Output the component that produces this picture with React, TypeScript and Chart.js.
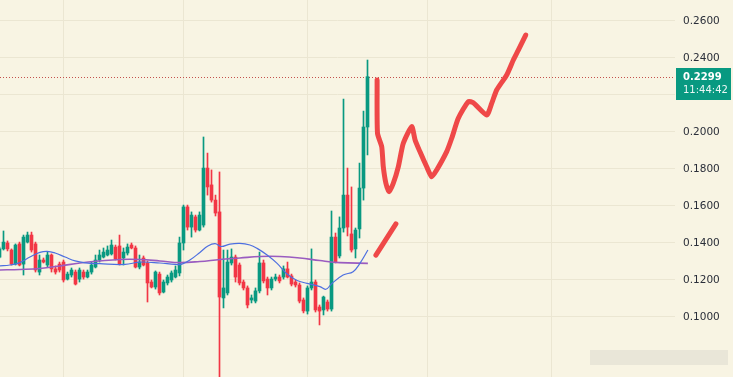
import React, { useEffect, useRef } from "react";
import { Chart, registerables } from "chart.js";

Chart.register(...registerables);

// ---- data ----
const candleOpen = [
  0.1324, 0.1368, 0.1400, 0.1362, 0.1286, 0.1395, 0.1286, 0.1405, 0.1443, 0.1395,
  0.1243, 0.1308, 0.1281, 0.1335, 0.1260, 0.1286, 0.1297, 0.1205, 0.1227, 0.1243,
  0.1205, 0.1243, 0.1216, 0.1243, 0.1270, 0.1308, 0.1324, 0.1335, 0.1341, 0.1378,
  0.1384, 0.1319, 0.1346, 0.1389, 0.1373, 0.1270, 0.1319, 0.1292, 0.1189, 0.1162,
  0.1232, 0.1135, 0.1184, 0.1200, 0.1216, 0.1238, 0.1400, 0.1595, 0.1486, 0.1541,
  0.1470, 0.1497, 0.1805, 0.1714, 0.1632, 0.1568, 0.1103, 0.1130, 0.1292, 0.1324,
  0.1281, 0.1189, 0.1157, 0.1092, 0.1086, 0.1141, 0.1292, 0.1205, 0.1157, 0.1205,
  0.1216, 0.1216, 0.1260, 0.1222, 0.1189, 0.1173, 0.1092, 0.1032, 0.1157, 0.1189,
  0.1054, 0.1038, 0.1081, 0.1043, 0.1432, 0.1330, 0.1481, 0.1659, 0.1449, 0.1368,
  0.1476, 0.1697, 0.2027,
];
const candleHigh = [
  0.1378, 0.1465, 0.1411, 0.1368, 0.1395, 0.1405, 0.1443, 0.1459, 0.1459, 0.1405,
  0.1335, 0.1319, 0.1351, 0.1341, 0.1276, 0.1297, 0.1308, 0.1243, 0.1265, 0.1254,
  0.1265, 0.1254, 0.1254, 0.1297, 0.1335, 0.1362, 0.1373, 0.1384, 0.1416, 0.1389,
  0.1443, 0.1373, 0.1395, 0.1400, 0.1384, 0.1335, 0.1330, 0.1303, 0.1200, 0.1249,
  0.1243, 0.1200, 0.1227, 0.1249, 0.1276, 0.1432, 0.1605, 0.1605, 0.1568, 0.1551,
  0.1568, 0.1973, 0.1886, 0.1795, 0.1659, 0.1784, 0.1362, 0.1362, 0.1368, 0.1335,
  0.1292, 0.1200, 0.1168, 0.1119, 0.1157, 0.1351, 0.1308, 0.1216, 0.1216, 0.1232,
  0.1227, 0.1276, 0.1297, 0.1232, 0.1200, 0.1184, 0.1103, 0.1168, 0.1368, 0.1200,
  0.1065, 0.1113, 0.1092, 0.1573, 0.1454, 0.1541, 0.2178, 0.1805, 0.1703, 0.1481,
  0.1832, 0.2113, 0.2389,
];
const candleLow = [
  0.1319, 0.1362, 0.1357, 0.1281, 0.1281, 0.1276, 0.1227, 0.1400, 0.1351, 0.1243,
  0.1227, 0.1292, 0.1270, 0.1243, 0.1232, 0.1243, 0.1189, 0.1200, 0.1216, 0.1173,
  0.1189, 0.1205, 0.1211, 0.1232, 0.1265, 0.1297, 0.1319, 0.1330, 0.1335, 0.1308,
  0.1281, 0.1281, 0.1335, 0.1368, 0.1265, 0.1260, 0.1276, 0.1081, 0.1157, 0.1151,
  0.1119, 0.1130, 0.1173, 0.1189, 0.1211, 0.1222, 0.1362, 0.1470, 0.1432, 0.1459,
  0.1465, 0.1486, 0.1659, 0.1621, 0.1546, 0.0600, 0.1049, 0.1119, 0.1281, 0.1189,
  0.1173, 0.1146, 0.1049, 0.1076, 0.1076, 0.1130, 0.1184, 0.1119, 0.1146, 0.1195,
  0.1184, 0.1205, 0.1211, 0.1168, 0.1162, 0.1076, 0.1022, 0.1016, 0.1146, 0.1027,
  0.0957, 0.1011, 0.1032, 0.1032, 0.1292, 0.1319, 0.1459, 0.1438, 0.1351, 0.1319,
  0.1427, 0.1632, 0.1876,
];
const candleClose = [
  0.1368, 0.1405, 0.1368, 0.1286, 0.1389, 0.1281, 0.1432, 0.1443, 0.1362, 0.1254,
  0.1308, 0.1297, 0.1335, 0.1260, 0.1243, 0.1254, 0.1200, 0.1232, 0.1254, 0.1178,
  0.1254, 0.1216, 0.1243, 0.1281, 0.1308, 0.1335, 0.1351, 0.1362, 0.1389, 0.1314,
  0.1286, 0.1351, 0.1378, 0.1373, 0.1270, 0.1297, 0.1281, 0.1184, 0.1162, 0.1243,
  0.1130, 0.1189, 0.1216, 0.1238, 0.1254, 0.1400, 0.1595, 0.1486, 0.1551, 0.1470,
  0.1551, 0.1805, 0.1703, 0.1632, 0.1562, 0.1108, 0.1157, 0.1297, 0.1324, 0.1216,
  0.1184, 0.1157, 0.1065, 0.1103, 0.1141, 0.1292, 0.1195, 0.1157, 0.1205, 0.1216,
  0.1195, 0.1260, 0.1216, 0.1178, 0.1173, 0.1086, 0.1033, 0.1157, 0.1189, 0.1038,
  0.1032, 0.1108, 0.1043, 0.1432, 0.1297, 0.1481, 0.1659, 0.1486, 0.1362, 0.1470,
  0.1697, 0.2027, 0.2299,
];

const priceTicks = [0.1, 0.12, 0.14, 0.16, 0.18, 0.2, 0.22, 0.24, 0.26];
const timeGrid = [15.9, 46.1, 76.9, 107.1, 138.1];

const fastMaIdx = [0, 2.6, 5.1, 7.6, 10.1, 11.9, 13.9, 16.4, 18.9, 21.4, 25.1, 31.4, 35.1, 40.1, 43.9, 45.6, 47.6, 50.1, 52.1, 53.9, 55.4, 57.6, 60.1, 62.6, 64.4, 66.9, 69.4, 71.9, 74.4, 76.9, 80.1, 81.6, 83.1, 85.9, 88.4, 90.1, 92.1];
const fastMaVal = [0.1276, 0.1281, 0.1294, 0.1324, 0.1349, 0.1355, 0.1346, 0.1324, 0.1303, 0.1293, 0.1288, 0.1284, 0.1297, 0.1292, 0.1284, 0.1286, 0.1308, 0.1349, 0.1384, 0.1397, 0.1381, 0.1394, 0.1398, 0.1389, 0.1371, 0.1335, 0.129, 0.1232, 0.1197, 0.1182, 0.1164, 0.115, 0.1181, 0.1227, 0.1245, 0.129, 0.1362];

const slowMaIdx = [0, 5.1, 10.1, 15.1, 20.1, 25.1, 30.1, 35.1, 40.1, 45.1, 50.1, 55.1, 60.1, 65.1, 70.1, 75.1, 80.1, 85.1, 92.1];
const slowMaVal = [0.1254, 0.1257, 0.1262, 0.1276, 0.1292, 0.1303, 0.1311, 0.1311, 0.1303, 0.1294, 0.13, 0.1311, 0.1319, 0.1327, 0.1327, 0.1319, 0.1305, 0.1294, 0.129];

const sketchAIdx = [94.4, 94.5, 95.55, 95.95, 96.6, 97.4, 98.45, 99.7, 100.95, 103.05, 103.9, 105.1, 106.8, 108.05, 109.3, 111.8, 113.05, 114.7, 117.2, 118.45, 121.8, 123.05, 124.3, 126.8, 128.45, 129.7, 131.55];
const sketchAVal = [0.2281, 0.1993, 0.1921, 0.1812, 0.1723, 0.1677, 0.1723, 0.1812, 0.1939, 0.2029, 0.1957, 0.1894, 0.1812, 0.1758, 0.1795, 0.1894, 0.1966, 0.2074, 0.2164, 0.2158, 0.2092, 0.2155, 0.2227, 0.2308, 0.2389, 0.2443, 0.2524];
const sketchBIdx = [94.1, 99.1];
const sketchBVal = [0.1335, 0.1503];

const lastPrice = 0.2299;
const countdown = "11:44:42";

const UP = "#089981";
const DOWN = "#f23645";
const BG = "#f8f4e3";
const GRID = "#ebe6d2";
const SKETCH = "#ef4848";
const FONT = "'DejaVu Sans', sans-serif";

export default function App() {
  const ref = useRef<HTMLCanvasElement | null>(null);

  useEffect(() => {
    document.body.style.margin = "0";
    const canvas = ref.current;
    if (!canvas) return;
    const idx = candleOpen.map((_, i) => i);
    const colors = idx.map((i) => (candleClose[i] >= candleOpen[i] ? UP : DOWN));

    const bgPlugin = {
      id: "bg",
      beforeDraw(chart: any) {
        const { ctx, width, height } = chart;
        ctx.save();
        ctx.fillStyle = BG;
        ctx.fillRect(0, 0, width, height);
        ctx.restore();
      },
    };

    const priceLinePlugin = {
      id: "priceLine",
      beforeDatasetsDraw(chart: any) {
        const { ctx, chartArea } = chart;
        const y = Math.round(chart.scales.y.getPixelForValue(lastPrice)) + 0.5;
        ctx.save();
        ctx.strokeStyle = "#c4514c";
        ctx.lineWidth = 1;
        ctx.setLineDash([1, 2]);
        ctx.beginPath();
        ctx.moveTo(chartArea.left, y);
        ctx.lineTo(chartArea.right, y);
        ctx.stroke();
        ctx.restore();
      },
      afterDraw(chart: any) {
        const { ctx, chartArea, width, height } = chart;
        const y = chart.scales.y.getPixelForValue(lastPrice);
        const x0 = chartArea.right + 1;
        ctx.save();
        // faint watermark strip, bottom right
        ctx.fillStyle = "rgba(205,203,195,0.35)";
        ctx.fillRect(width - 143, height - 27, 138, 15);
        ctx.fillStyle = UP;
        ctx.fillRect(x0, Math.round(y - 8.5), width - x0 - 2, 32);
        ctx.fillStyle = "#ffffff";
        ctx.textBaseline = "middle";
        ctx.textAlign = "left";
        ctx.font = `bold 10px ${FONT}`;
        ctx.fillText(lastPrice.toFixed(4), chartArea.right + 8, y + 1);
        ctx.font = `10px ${FONT}`;
        ctx.fillStyle = "rgba(255,255,255,0.92)";
        ctx.fillText(countdown, chartArea.right + 8, y + 14);
        ctx.restore();
      },
    };

    const chart = new Chart(canvas, {
      type: "bar",
      data: {
        datasets: [
          {
            type: "line",
            label: "sketch1",
            data: sketchAIdx.map((x, k) => ({ x, y: sketchAVal[k] })),
            borderColor: SKETCH,
            borderWidth: 5,
            pointRadius: 0,
            tension: 0.2,
            borderCapStyle: "round",
            borderJoinStyle: "round",
            order: 0,
          },
          {
            type: "line",
            label: "sketch2",
            data: sketchBIdx.map((x, k) => ({ x, y: sketchBVal[k] })),
            borderColor: SKETCH,
            borderWidth: 5,
            pointRadius: 0,
            borderCapStyle: "round",
            order: 0,
          },
          {
            type: "line",
            label: "MA fast",
            data: fastMaIdx.map((x, k) => ({ x, y: fastMaVal[k] })),
            borderColor: "#4d6fe0",
            borderWidth: 1.2,
            pointRadius: 0,
            tension: 0.4,
            order: 1,
          },
          {
            type: "line",
            label: "MA slow",
            data: slowMaIdx.map((x, k) => ({ x, y: slowMaVal[k] })),
            borderColor: "#9a5cc0",
            borderWidth: 1.6,
            pointRadius: 0,
            tension: 0.4,
            order: 1,
          },
          {
            type: "bar",
            label: "body",
            data: idx.map((i) => ({ x: i, y: [candleOpen[i], candleClose[i]] })) as any,
            backgroundColor: colors,
            barThickness: 3,
            grouped: false,
            minBarLength: 1,
            order: 2,
          },
          {
            type: "bar",
            label: "wick",
            data: idx.map((i) => ({ x: i, y: [candleLow[i], candleHigh[i]] })) as any,
            backgroundColor: colors,
            barThickness: 1,
            grouped: false,
            order: 3,
          },
        ] as any,
      },
      options: {
        animation: false,
        responsive: false,
        layout: { padding: 0 },
        plugins: { legend: { display: false }, tooltip: { enabled: false } },
        scales: {
          x: {
            type: "linear",
            min: 0.125,
            max: 168.875,
            offset: false,
            grid: { color: GRID, drawTicks: false, offset: false },
            border: { display: false },
            ticks: { display: false },
            afterBuildTicks: (s: any) => {
              s.ticks = timeGrid.map((v) => ({ value: v }));
            },
            afterFit: (s: any) => {
              s.height = 0;
              s.paddingLeft = 0;
              s.paddingRight = 0;
            },
          },
          y: {
            type: "linear",
            position: "right",
            min: 0.067567,
            max: 0.271351,
            grid: { color: GRID, drawTicks: false },
            border: { display: false },
            ticks: {
              padding: 8,
              color: "#2a2e39",
              font: { family: FONT, size: 10.5 },
              callback: (v: any) => Number(v).toFixed(4),
            },
            afterBuildTicks: (s: any) => {
              s.ticks = priceTicks.map((v) => ({ value: v }));
            },
            afterFit: (s: any) => {
              s.width = 58;
              s.paddingTop = 0;
              s.paddingBottom = 0;
            },
          },
        },
      } as any,
      plugins: [bgPlugin, priceLinePlugin],
    });
    return () => chart.destroy();
  }, []);

  return (
    <div style={{ width: 733, height: 377 }}>
      <canvas ref={ref} width={733} height={377} style={{ display: "block" }} />
    </div>
  );
}
